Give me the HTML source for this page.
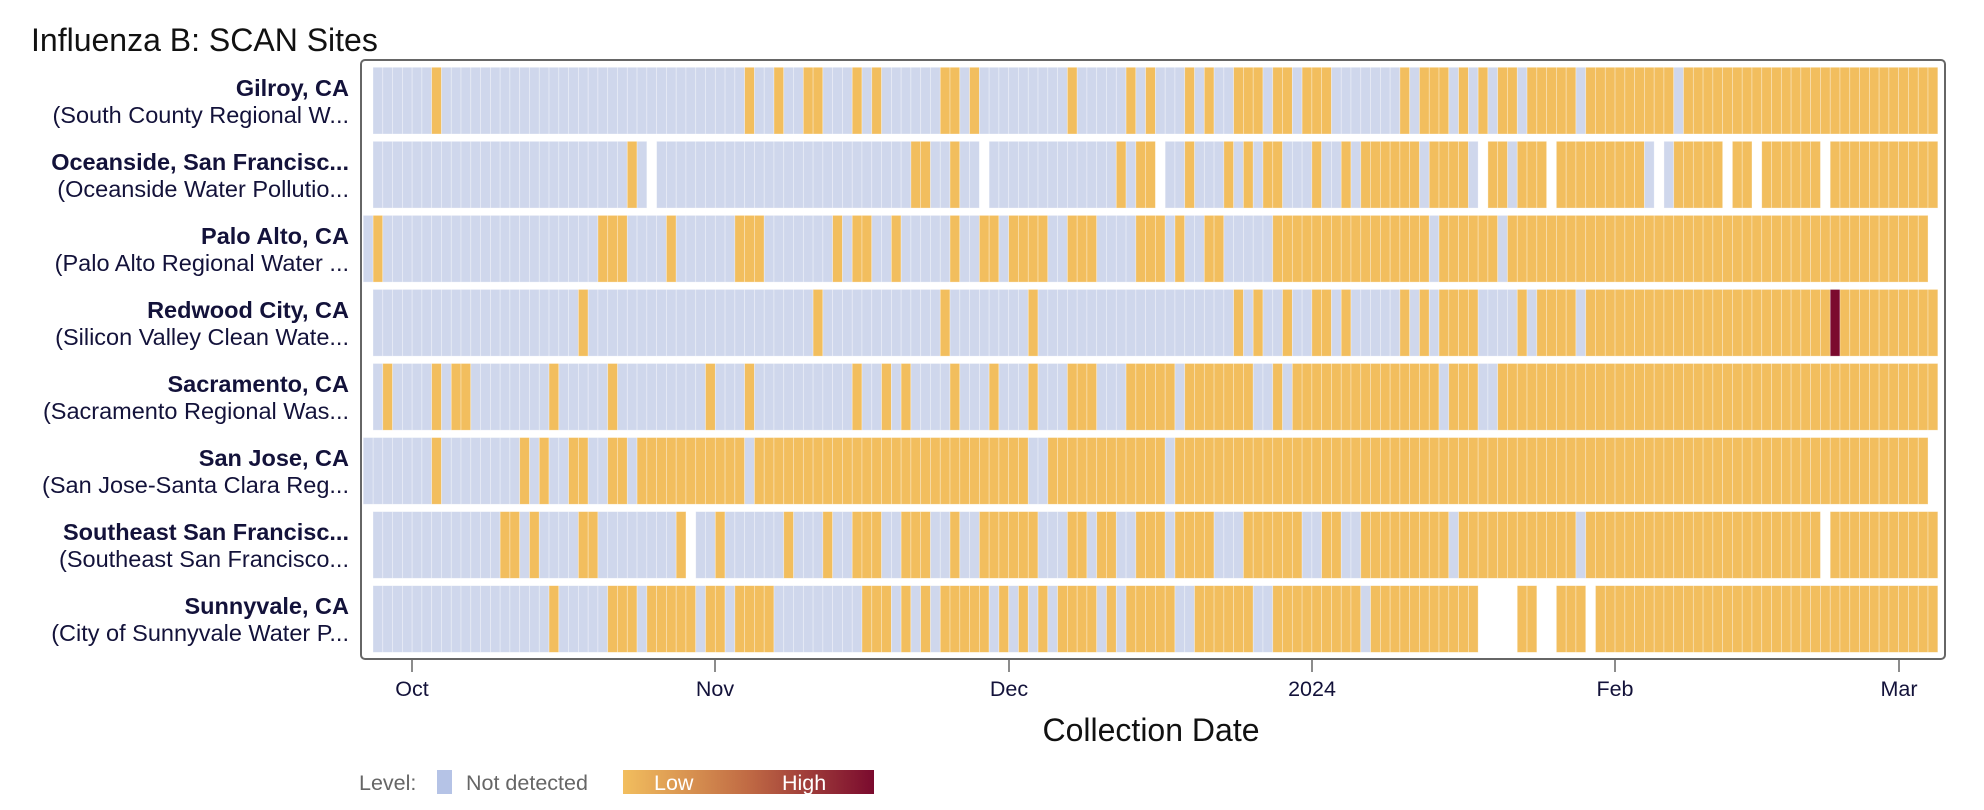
<!DOCTYPE html>
<html><head><meta charset="utf-8">
<style>
html,body{margin:0;padding:0;background:#fff;width:1984px;height:810px;overflow:hidden}
svg{display:block;font-family:"Liberation Sans",Arial,sans-serif}
</style></head>
<body>
<svg id="s" width="1984" height="810" xmlns="http://www.w3.org/2000/svg">
<defs><linearGradient id="g" x1="0" x2="1" y1="0" y2="0">
<stop offset="0" stop-color="#f2be5e"/><stop offset="0.5" stop-color="#c06a44"/><stop offset="1" stop-color="#7a0a2e"/></linearGradient></defs>
<text x="31" y="51" font-size="32" fill="#111">Influenza B: SCAN Sites</text>
<g id="cells"></g>
<rect x="361" y="60" width="1584" height="599" rx="4" fill="none" stroke="#666" stroke-width="2"/>
<g font-size="23.5" fill="#13123a" text-anchor="end">
<text x="349" y="96" font-weight="bold">Gilroy, CA</text><text x="349" y="123">(South County Regional W...</text>
<text x="349" y="170" font-weight="bold">Oceanside, San Francisc...</text><text x="349" y="197">(Oceanside Water Pollutio...</text>
<text x="349" y="244" font-weight="bold">Palo Alto, CA</text><text x="349" y="271">(Palo Alto Regional Water ...</text>
<text x="349" y="318" font-weight="bold">Redwood City, CA</text><text x="349" y="345">(Silicon Valley Clean Wate...</text>
<text x="349" y="392" font-weight="bold">Sacramento, CA</text><text x="349" y="419">(Sacramento Regional Was...</text>
<text x="349" y="466" font-weight="bold">San Jose, CA</text><text x="349" y="493">(San Jose-Santa Clara Reg...</text>
<text x="349" y="540" font-weight="bold">Southeast San Francisc...</text><text x="349" y="567">(Southeast San Francisco...</text>
<text x="349" y="614" font-weight="bold">Sunnyvale, CA</text><text x="349" y="641">(City of Sunnyvale Water P...</text>
</g>
<g stroke="#666" stroke-width="1.5">
<line x1="412" y1="660" x2="412" y2="672"/><line x1="715" y1="660" x2="715" y2="672"/>
<line x1="1009" y1="660" x2="1009" y2="672"/><line x1="1312" y1="660" x2="1312" y2="672"/>
<line x1="1615" y1="660" x2="1615" y2="672"/><line x1="1899" y1="660" x2="1899" y2="672"/>
</g>
<g font-size="21.5" fill="#13123a" text-anchor="middle">
<text x="412" y="696">Oct</text><text x="715" y="696">Nov</text><text x="1009" y="696">Dec</text>
<text x="1312" y="696">2024</text><text x="1615" y="696">Feb</text><text x="1899" y="696">Mar</text>
</g>
<text x="1151" y="741" font-size="32" fill="#111" text-anchor="middle">Collection Date</text>
<text x="359" y="790" font-size="21.5" fill="#666">Level:</text>
<rect x="437" y="770" width="15" height="24" fill="#b5c3e6"/>
<text x="466" y="790" font-size="21.5" fill="#666">Not detected</text>
<rect x="623" y="770" width="251" height="24" fill="url(#g)"/>
<text x="654" y="790" font-size="21.5" fill="#fff">Low</text>
<text x="782" y="790" font-size="21.5" fill="#fff">High</text>
</svg>
<script>
var rows=[
 {r:[0,159],o:[[6],[38],[41],[44,45],[49],[51],[58,59],[61],[71],[77],[79],[83],[85],[88,90],[92,93],[95,97],[105],[107,109],[111],[113],[115,116],[118,122],[124,132],[134,159]]},
 {r:[0,159],o:[[26],[55,56],[59],[76],[78,79],[83],[87],[89],[91,92],[96],[99],[101,106],[108,111],[114,115],[117,119],[121,129],[133,137],[139,140],[142,147],[149,159]],n:[28,62,80,113,120,131,138,141,148]},
 {r:[-1,158],o:[[0],[23,25],[30],[37,39],[47],[49,50],[53],[59],[62,63],[65,68],[71,73],[78,80],[82],[85,86],[92,107],[109,114],[116,158]]},
 {r:[0,159],o:[[21],[45],[58],[67],[88],[90],[93],[96,97],[99],[105],[107],[109,112],[117],[119,122],[124,148],[150,159]],red:[149]},
 {r:[0,159],o:[[1],[6],[8,9],[18],[24],[34],[38],[49],[52],[54],[59],[63],[67],[71,73],[77,81],[83,89],[92],[94,108],[110,112],[115,159]]},
 {r:[-1,158],o:[[6],[15],[17],[20,21],[24,25],[27,37],[39,66],[69,80],[82,158]]},
 {r:[0,159],o:[[13,14],[16],[21,22],[31],[35],[42],[46],[49,51],[54,56],[59],[62,67],[71,72],[74,75],[78,80],[82,85],[89,94],[97,98],[101,109],[111,122],[124,147],[149,159]],n:[32,148]},
 {r:[0,159],o:[[18],[24,26],[28,32],[34,35],[37,40],[50,52],[54],[56],[58,62],[64],[66],[68],[70,73],[75],[77,81],[84,89],[92,100],[102,112],[117,118],[121,123],[125,159]],n:[113,114,115,116,119,120,124]}
];
var W=9.78,X0=373,out=[];
rows.forEach(function(row,i){
  var y=67.3+74.05*i,h=66.7,t={};
  for(var d=row.r[0];d<=row.r[1];d++)t[d]='#cfd7ec';
  row.o.forEach(function(s){var e=s.length>1?s[1]:s[0];for(var d=s[0];d<=e;d++)t[d]='#f2be5e';});
  (row.n||[]).forEach(function(d){delete t[d];});
  (row.red||[]).forEach(function(d){t[d]='#7b0a2e';});
  for(var d in t){var x=X0+d*W;
    out.push('<rect x="'+x.toFixed(2)+'" y="'+y.toFixed(2)+'" width="'+W+'" height="'+h+'" fill="'+t[d]+'" stroke="rgba(255,255,255,0.45)" stroke-width="0.7"/>');}
});
document.getElementById('cells').innerHTML=out.join('');
</script>
</body></html>
